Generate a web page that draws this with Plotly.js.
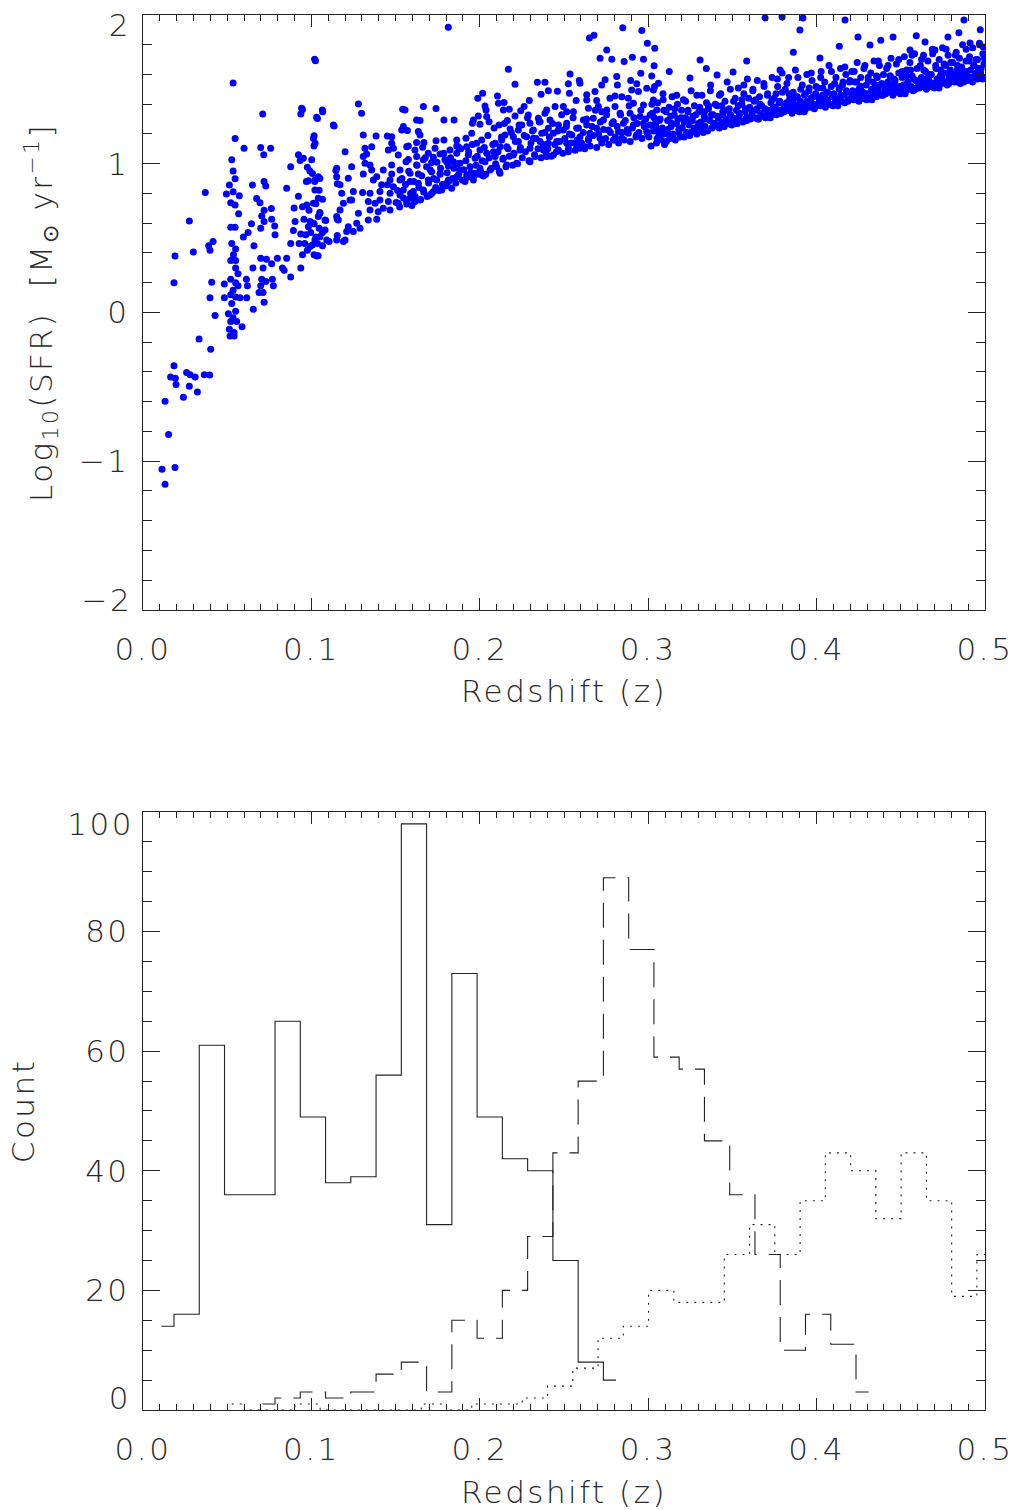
<!DOCTYPE html>
<html>
<head>
<meta charset="utf-8">
<script src="https://cdn.plot.ly/plotly-3.0.1.min.js"></script>
<style>
  html, body { margin: 0; padding: 0; background: #fff; }
  #chart { width: 1015px; height: 1510px; }
  #chart svg text { letter-spacing: 2.5px; }
</style>
</head>
<body>
<div id="chart"></div>
<script>
// Star-formation rate against redshift, [z, log10 SFR] pairs grouped by redshift range
const ptsLowZ = [
  [0.0113,-1.054],[0.0131,-1.155],[0.0190,-1.042],[0.0152,-0.821],[0.0131,-0.597],[0.0184,-0.358],
  [0.0164,-0.433],[0.0192,-0.442],[0.0196,-0.484],[0.0240,-0.570],[0.0259,-0.403],[0.0275,-0.496],
  [0.0280,-0.418],[0.0310,-0.433],[0.0323,-0.534],[0.0364,-0.418],[0.0396,-0.421],[0.0402,-0.248],
  [0.0333,-0.179],[0.0428,-0.021],[0.0398,0.099],[0.0408,0.203],[0.0184,0.200],[0.0190,0.379],
  [0.0299,0.406],[0.0275,0.615],[0.0370,0.806],[0.0390,0.448],[0.0416,0.478],[0.0398,0.418],
  [0.0483,0.191],[0.0483,0.099],
  [0.0535,1.543],[0.0547,1.170],[0.0527,1.027],[0.0535,0.952],[0.0547,0.899],[0.0513,0.857],
  [0.0495,0.797],[0.0535,0.812],[0.0572,0.785],[0.0521,0.737],[0.0547,0.722],[0.0568,0.663],
  [0.0521,0.573],[0.0547,0.573],[0.0527,0.463],[0.0550,0.427],[0.0521,0.349],[0.0550,0.349],
  [0.0564,0.260],[0.0521,0.224],[0.0550,0.200],[0.0535,0.149],[0.0564,0.179],[0.0521,0.119],
  [0.0550,0.104],[0.0576,0.099],[0.0527,0.060],[0.0550,0.009],[0.0507,-0.009],[0.0535,-0.036],
  [0.0521,-0.060],[0.0556,-0.060],[0.0513,-0.113],[0.0541,-0.134],[0.0588,-0.096],[0.0517,-0.158],
  [0.0541,-0.158],[0.0550,0.299],[0.0537,0.388],
  [0.0600,1.104],[0.0596,0.508],[0.0624,0.538],[0.0614,0.224],[0.0620,0.179],[0.0616,0.099],
  [0.0644,0.597],[0.0650,0.857],[0.0659,0.448],[0.0653,0.299],[0.0655,0.021],[0.0675,0.767],
  [0.0695,0.737],[0.0711,1.334],[0.0699,1.110],[0.0717,1.060],[0.0758,1.104],[0.0719,0.881],
  [0.0729,0.851],[0.0719,0.687],[0.0705,0.648],[0.0699,0.567],[0.0719,0.612],[0.0762,0.699],
  [0.0764,0.627],[0.0782,0.582],[0.0699,0.364],[0.0733,0.358],[0.0713,0.299],[0.0705,0.224],
  [0.0729,0.209],[0.0689,0.134],[0.0713,0.134],[0.0719,0.069],[0.0699,0.179],[0.0764,0.328],
  [0.0774,0.179],[0.0768,0.224],[0.0798,0.364],[0.0784,0.522],[0.0828,0.299],[0.0838,0.284],
  [0.0853,0.836],[0.0877,0.979],[0.0877,0.239],[0.0853,0.364],[0.0877,0.463],[0.0893,0.552],
  [0.0903,0.612],[0.0897,0.702],[0.0923,1.060],[0.0933,1.021],[0.0937,1.334],[0.0947,1.364],
  [0.1024,1.693],[0.1036,1.304],[0.1067,1.349],[0.1135,1.254],[0.1016,1.188],[0.1022,1.137],
  [0.0976,0.976],[0.1006,0.934],[0.0970,0.881],[0.1020,0.881],[0.1050,0.901],[0.1046,0.821],
  [0.0923,0.782],[0.0947,0.711],[0.0986,0.687],[0.1026,0.731],[0.1050,0.672],[0.1066,0.761],
  [0.0956,0.627],[0.0992,0.612],[0.1016,0.597],[0.1046,0.567],[0.1085,0.618],[0.0937,0.528],
  [0.0966,0.522],[0.0996,0.538],[0.1026,0.508],[0.1066,0.538],[0.0927,0.463],[0.0960,0.463],
  [0.1006,0.454],[0.1036,0.463],[0.1066,0.448],[0.1105,0.478],[0.0947,0.388],[0.0976,0.418],
  [0.1016,0.388],[0.1040,0.382],[0.0937,0.299],[0.1145,0.955],[0.1154,0.866],[0.1154,0.627],
  [0.1154,0.517]
];

const ptsMidZ = [
  [0.1813,1.917],[0.1019,1.702],[0.2849,1.915],[0.2962,1.895],[0.2651,1.846],[0.2678,1.864],
  [0.2754,1.765],[0.2714,1.709],[0.2784,1.702],[0.2857,1.687],[0.2906,1.716],[0.2972,1.702],
  [0.2995,1.810],[0.3039,1.776],[0.3035,1.658],[0.2956,1.608],[0.3021,1.590],[0.2170,1.635],
  [0.2209,1.534],[0.2342,1.548],[0.2387,1.548],[0.2364,1.467],[0.2407,1.490],[0.2461,1.487],
  [0.2536,1.604],[0.2526,1.537],[0.2591,1.559],[0.2532,1.474],[0.2595,1.541],[0.2744,1.564],
  [0.2813,1.586],[0.2817,1.530],[0.2724,1.530],[0.2896,1.559],[0.2932,1.537],[0.2017,1.474],
  [0.1988,1.440],[0.2105,1.456],[0.2144,1.411],[0.2111,1.407],[0.2031,1.389],[0.2037,1.361],
  [0.2140,1.361],[0.2175,1.366],[0.2263,1.384],[0.2294,1.425],[0.2243,1.357],[0.2209,1.321],
  [0.2288,1.328],[0.2164,1.290],[0.1991,1.321],[0.2041,1.317],[0.2055,1.283],[0.1962,1.294],
  [0.1956,1.272],[0.2001,1.265],[0.2114,1.261],[0.2180,1.234],[0.2249,1.261],[0.2298,1.272],
  [0.2348,1.306],[0.2397,1.361],[0.2447,1.384],[0.2496,1.384],[0.2516,1.350],[0.2556,1.350],
  [0.2572,1.425],[0.2635,1.429],[0.2684,1.485],[0.2635,1.463],[0.2694,1.425],[0.2645,1.373],
  [0.2704,1.384],[0.2724,1.350],[0.2773,1.440],[0.2803,1.456],[0.2843,1.451],[0.2882,1.440],
  [0.2902,1.496],[0.2942,1.485],[0.2991,1.507],[0.3031,1.496],[0.3061,1.541],[0.2912,1.407],
  [0.2972,1.395],[0.3031,1.429],[0.3051,1.361],[0.2803,1.384],[0.2754,1.361],[0.2833,1.339],
  [0.2892,1.339],[0.2952,1.317],[0.3011,1.328],[0.3061,1.294],[0.2674,1.306],[0.2734,1.294],
  [0.2793,1.283],[0.2853,1.272],[0.2912,1.261],[0.2972,1.272],[0.3031,1.250],[0.2615,1.294],
  [0.2635,1.261],[0.2694,1.239],[0.2764,1.227],[0.2823,1.216],[0.2882,1.205],[0.2932,1.194],
  [0.2991,1.216],[0.3051,1.227],[0.2655,1.205],[0.2714,1.171],[0.2793,1.160],[0.2843,1.171],
  [0.2575,1.239],[0.2516,1.272],[0.2467,1.261],[0.2417,1.294],[0.2387,1.339],[0.2358,1.283],
  [0.2318,1.227],[0.2229,1.227],[0.2199,1.182],[0.2150,1.194],[0.2130,1.160],[0.2120,1.115],
  [0.2160,1.115],[0.2229,1.149],[0.2278,1.182],[0.2318,1.171],[0.2368,1.205],[0.2407,1.239],
  [0.2437,1.205],[0.2496,1.227],[0.2546,1.194],[0.2595,1.182],[0.2645,1.160],[0.2358,1.149],
  [0.2407,1.137],[0.2457,1.149],[0.2516,1.137],[0.2575,1.126],[0.2625,1.115],[0.2467,1.093],
  [0.2526,1.081],[0.2595,1.104],[0.2378,1.093],[0.2298,1.104],[0.2239,1.093],[0.2199,1.059],
  [0.2328,1.048],[0.2397,1.048],[0.2437,1.059],[0.2298,1.014],[0.2219,1.003],[0.2160,0.992],
  [0.2140,1.037],[0.2091,1.048],[0.2041,1.070],[0.2091,1.137],[0.2081,1.081],[0.2001,1.093],
  [0.2011,1.160],[0.1952,1.205],[0.1918,1.171],[0.1981,1.137],[0.1922,1.115],[0.1863,1.160],
  [0.1863,1.120],[0.1932,1.059],[0.1972,1.037],[0.2031,1.014],[0.2100,0.980],[0.2120,0.936],
  [0.2061,0.958],[0.2001,0.969],[0.1942,0.980],[0.1882,1.003],[0.1843,1.014],[0.1803,1.014],
  [0.1882,0.958],[0.1922,0.924],[0.1972,0.936],[0.2021,0.918],[0.1863,0.913],[0.1813,0.891],
  [0.1912,0.880],[0.1962,0.891],[0.1813,0.985],[0.1767,0.969],[0.1793,1.026],[0.1784,1.066],
  [0.1823,1.093],[0.1863,1.070],[0.1872,1.115],[0.1787,1.294],[0.1847,1.294],[0.1740,1.372],
  [0.1665,1.384],[0.1556,1.361],[0.1542,1.366],[0.1625,1.294],[0.1645,1.290],[0.1546,1.250],
  [0.1570,1.223],[0.1536,1.227],[0.1635,1.216],[0.1645,1.194],[0.1740,1.155],[0.1787,1.160],
  [0.1734,1.104],[0.1764,1.066],[0.1694,1.070],[0.1625,1.142],[0.1668,1.142],[0.1661,1.111],
  [0.1615,1.093],[0.1576,1.120],[0.1477,1.182],[0.1451,1.187],[0.1384,1.187],[0.1308,1.194],
  [0.1477,1.137],[0.1457,1.093],[0.1487,1.104],[0.1566,1.115],[0.1516,1.059],[0.1576,1.028],
  [0.1625,1.048],[0.1665,1.026],[0.1714,1.008],[0.1724,1.044],[0.1684,0.980],[0.1625,0.992],
  [0.1562,1.014],[0.1477,0.992],[0.1526,0.958],[0.1477,0.931],[0.1427,0.958],[0.1586,0.936],
  [0.1635,0.931],[0.1714,0.947],[0.1764,0.936],[0.1744,0.891],[0.1694,0.891],[0.1635,0.869],
  [0.1586,0.880],[0.1526,0.891],[0.1467,0.891],[0.1417,0.858],[0.1487,0.846],[0.1546,0.824],
  [0.1605,0.813],[0.1665,0.824],[0.1724,0.813],[0.1774,0.824],[0.1833,0.835],[0.1803,0.869],
  [0.1467,0.801],[0.1526,0.790],[0.1586,0.768],[0.1645,0.757],[0.1704,0.790],[0.1407,0.813],
  [0.1407,0.757],[0.1457,0.746],[0.1516,0.734],[0.1566,0.746],[0.1615,0.746],[0.1427,0.701],
  [0.1467,0.689],[0.1348,0.689],[0.1378,0.734],[0.1338,0.746],[0.1304,0.807],[0.1348,0.801],
  [0.1397,0.678],[0.1388,0.627],[0.1338,0.622],[0.1279,0.667],[0.1269,0.600],[0.1289,0.566],
  [0.1249,0.544],[0.1219,0.577],[0.1209,0.544],[0.1200,0.488],[0.1160,0.622],[0.1150,0.645],
  [0.1170,0.689],[0.1190,0.734],[0.1229,0.757],[0.1249,0.813],[0.1239,0.757],[0.1180,0.801],
  [0.1170,0.858],[0.1150,0.913],[0.1150,0.969],[0.1219,0.902],[0.1239,0.980],[0.1200,1.081],
  [0.1130,1.261],[0.1279,1.402],[0.1298,1.339],[0.1065,1.361],[0.1031,1.312],[0.0942,1.373],
  [0.1308,1.048],[0.1318,1.104],[0.1358,1.115],[0.1328,1.066],[0.1348,0.992],[0.1318,1.003],
  [0.1358,0.958],[0.1308,0.931],[0.1388,0.913],[0.1368,0.891],[0.1451,0.858],[0.1081,0.622],
  [0.1051,0.667],[0.1012,1.172],[0.1015,1.120],[0.1002,1.026],[0.0991,0.951],[0.0982,0.886],
  [0.1021,0.891],[0.1041,0.913],[0.1021,0.824],[0.1041,0.768],[0.1012,0.734],[0.0972,0.723],
  [0.1041,0.645],[0.1012,0.600],[0.0982,0.577],[0.1051,0.510],[0.1021,0.488],[0.1091,0.488],
  [0.0992,0.443],[0.1031,0.380],[0.1081,0.555],[0.0952,1.037],[0.1150,0.488],[0.1190,0.477]
];

// Denser lower part of the sequence between z = 0.15 and 0.30
const ptsMidBand = [
  [0.1503,0.74],[0.1512,0.82],[0.1524,0.71],[0.1538,0.90],[0.1547,0.77],[0.1559,0.86],[0.1566,0.73],
  [0.1578,0.95],[0.1589,0.80],[0.1597,0.72],[0.1608,0.88],[0.1616,0.78],[0.1627,0.99],[0.1638,0.84],
  [0.1649,0.76],[0.1655,0.92],[0.1667,0.81],[0.1676,1.04],[0.1688,0.78],[0.1696,0.87],[0.1705,0.96],
  [0.1714,0.80],[0.1726,0.90],[0.1738,0.84],[0.1746,1.01],[0.1757,0.82],[0.1765,0.93],[0.1778,0.86],
  [0.1786,1.07],[0.1797,0.85],[0.1806,0.94],[0.1815,0.88],[0.1826,1.04],[0.1838,0.90],[0.1846,0.97],
  [0.1857,0.87],[0.1868,1.00],[0.1875,0.93],[0.1887,1.10],[0.1896,0.89],[0.1905,0.96],[0.1917,1.02],
  [0.1926,0.91],[0.1934,1.08],[0.1947,0.94],[0.1955,1.13],[0.1966,0.92],[0.1977,0.99],[0.1985,1.05],
  [0.1996,0.93],
  [0.2004,0.95],[0.2013,1.02],[0.2027,1.11],[0.2035,0.93],[0.2048,1.19],[0.2056,1.04],[0.2069,0.97],
  [0.2077,1.13],[0.2085,1.24],[0.2094,1.00],[0.2108,1.08],[0.2116,0.95],[0.2129,1.18],[0.2137,1.03],
  [0.2146,1.27],[0.2155,0.98],[0.2168,1.10],[0.2176,1.05],[0.2187,1.21],[0.2195,0.99],
  [0.2203,1.07],[0.2211,1.15],[0.2224,1.00],[0.2233,1.26],[0.2241,1.11],[0.2252,1.04],[0.2264,1.19],
  [0.2271,1.08],[0.2283,1.31],[0.2292,1.02],[0.2304,1.14],[0.2313,1.22],[0.2325,1.06],[0.2334,1.17],
  [0.2346,1.10],[0.2353,1.28],[0.2364,1.04],[0.2377,1.13],[0.2386,1.21],[0.2394,1.07],
  [0.2404,1.10],[0.2413,1.18],[0.2425,1.05],[0.2432,1.27],[0.2446,1.13],[0.2455,1.08],[0.2463,1.22],
  [0.2474,1.15],[0.2486,1.33],[0.2493,1.07],[0.2505,1.17],[0.2514,1.25],[0.2526,1.10],[0.2533,1.20],
  [0.2545,1.14],[0.2554,1.31],[0.2566,1.09],[0.2578,1.16],[0.2586,1.24],[0.2597,1.12],
  [0.2604,1.14],[0.2615,1.21],[0.2623,1.10],[0.2634,1.30],[0.2646,1.17],[0.2655,1.12],[0.2667,1.25],
  [0.2673,1.19],[0.2686,1.36],[0.2694,1.11],[0.2705,1.20],[0.2716,1.28],[0.2724,1.14],[0.2735,1.23],
  [0.2747,1.17],[0.2753,1.33],[0.2765,1.13],[0.2776,1.21],[0.2785,1.27],[0.2796,1.16],
  [0.2805,1.18],[0.2816,1.25],[0.2824,1.14],[0.2836,1.33],[0.2844,1.21],[0.2857,1.16],[0.2864,1.29],
  [0.2875,1.23],[0.2887,1.39],[0.2893,1.15],[0.2906,1.24],[0.2915,1.31],[0.2927,1.18],[0.2934,1.27],
  [0.2945,1.21],[0.2956,1.36],[0.2963,1.17],[0.2977,1.25],[0.2985,1.30],[0.2996,1.20]
];

// Sparse high points above the sequence beyond z = 0.3
const ptsHighOutliers = [
  [0.3694,1.980],[0.3795,1.987],[0.3919,1.980],[0.3901,1.899],[0.4169,1.966],[0.4875,1.966],
  [0.3409,1.597],[0.3504,1.617],[0.3783,1.630],[0.4020,1.711],[0.4246,1.852],[0.4454,1.852],
  [0.4555,1.765],[0.4644,1.818],[0.4780,1.852],[0.4911,1.812],[0.4990,1.785],[0.4703,1.765],
  [0.4317,1.798],[0.3308,1.697],[0.3248,1.576],
  [0.3125,1.62],[0.3345,1.64],[0.3585,1.69],[0.3862,1.75],[0.4135,1.79],[0.4381,1.83],
  [0.4592,1.86],[0.4845,1.88],[0.4972,1.90]
];

// Main sequence beyond z = 0.3
const ptsHighZ = [
  [0.3004,1.18],[0.3017,1.12],[0.3025,1.34],[0.3031,1.22],[0.3042,1.27],[0.3049,1.14],[0.3056,1.41],
  [0.3063,1.19],[0.3071,1.30],[0.3077,1.16],[0.3084,1.24],[0.3088,1.47],[0.3093,1.36],[0.3097,1.13],
  [0.3038,1.52],
  [0.3103,1.21],[0.3108,1.15],[0.3115,1.29],[0.3124,1.38],[0.3129,1.17],[0.3136,1.25],[0.3142,1.45],
  [0.3147,1.20],[0.3155,1.33],[0.3161,1.16],[0.3168,1.27],[0.3174,1.40],[0.3182,1.23],[0.3188,1.18],
  [0.3195,1.31],
  [0.3202,1.24],[0.3209,1.43],[0.3214,1.18],[0.3221,1.31],[0.3228,1.21],[0.3236,1.36],[0.3243,1.26],
  [0.3247,1.19],[0.3255,1.49],[0.3262,1.29],[0.3269,1.22],[0.3274,1.39],[0.3283,1.33],[0.3289,1.20],
  [0.3297,1.27],
  [0.3301,1.35],[0.3306,1.23],[0.3313,1.28],[0.3319,1.46],[0.3327,1.21],[0.3333,1.32],[0.3338,1.25],
  [0.3346,1.41],[0.3352,1.22],[0.3358,1.37],[0.3366,1.29],[0.3371,1.53],[0.3379,1.24],[0.3386,1.33],
  [0.3393,1.27],
  [0.3404,1.26],[0.3409,1.39],[0.3416,1.31],[0.3422,1.24],[0.3431,1.47],[0.3437,1.28],[0.3443,1.35],
  [0.3448,1.25],[0.3456,1.42],[0.3462,1.30],[0.3469,1.55],[0.3475,1.27],[0.3482,1.37],[0.3489,1.33],
  [0.3496,1.26],
  [0.3503,1.31],[0.3511,1.28],[0.3517,1.44],[0.3524,1.36],[0.3529,1.27],[0.3535,1.51],[0.3542,1.33],
  [0.3549,1.29],[0.3556,1.40],[0.3563,1.28],[0.3568,1.47],[0.3575,1.35],[0.3583,1.31],[0.3589,1.57],
  [0.3596,1.30],
  [0.3602,1.38],[0.3608,1.30],[0.3615,1.33],[0.3621,1.49],[0.3629,1.42],[0.3634,1.31],[0.3641,1.36],
  [0.3648,1.56],[0.3655,1.30],[0.3661,1.45],[0.3667,1.34],[0.3674,1.39],[0.3682,1.32],[0.3688,1.52],
  [0.3694,1.37],
  [0.3704,1.33],[0.3709,1.47],[0.3716,1.36],[0.3723,1.32],[0.3729,1.41],[0.3736,1.58],[0.3742,1.34],
  [0.3748,1.44],[0.3755,1.38],[0.3761,1.33],[0.3769,1.52],[0.3774,1.36],[0.3781,1.42],[0.3788,1.34],
  [0.3795,1.61],
  [0.3802,1.37],[0.3807,1.35],[0.3814,1.50],[0.3821,1.41],[0.3828,1.36],[0.3834,1.58],[0.3841,1.44],
  [0.3847,1.38],[0.3853,1.35],[0.3861,1.48],[0.3867,1.40],[0.3874,1.63],[0.3879,1.37],[0.3886,1.45],
  [0.3893,1.39],
  [0.3903,1.42],[0.3909,1.37],[0.3915,1.53],[0.3922,1.39],[0.3928,1.46],[0.3935,1.37],[0.3942,1.60],
  [0.3947,1.41],[0.3954,1.49],[0.3961,1.38],[0.3968,1.44],[0.3973,1.56],[0.3981,1.40],[0.3987,1.37],
  [0.3994,1.47],
  [0.4003,1.40],[0.4008,1.51],[0.4016,1.43],[0.4022,1.39],[0.4027,1.62],[0.4035,1.46],[0.4041,1.41],
  [0.4048,1.55],[0.4053,1.39],[0.4061,1.48],[0.4066,1.43],[0.4074,1.66],[0.4081,1.40],[0.4087,1.52],
  [0.4094,1.45],
  [0.4102,1.47],[0.4109,1.41],[0.4115,1.58],[0.4121,1.44],[0.4128,1.41],[0.4134,1.50],[0.4142,1.64],
  [0.4148,1.42],[0.4154,1.53],[0.4161,1.46],[0.4167,1.41],[0.4174,1.60],[0.4181,1.48],[0.4188,1.43],
  [0.4195,1.55],
  [0.4203,1.44],[0.4209,1.62],[0.4214,1.49],[0.4222,1.43],[0.4228,1.55],[0.4236,1.46],[0.4241,1.68],
  [0.4248,1.43],[0.4255,1.51],[0.4262,1.58],[0.4268,1.45],[0.4275,1.48],[0.4281,1.64],[0.4288,1.44],
  [0.4295,1.53],
  [0.4302,1.47],[0.4307,1.56],[0.4315,1.45],[0.4322,1.61],[0.4327,1.50],[0.4334,1.46],[0.4341,1.69],
  [0.4348,1.53],[0.4354,1.45],[0.4361,1.58],[0.4366,1.49],[0.4373,1.66],[0.4381,1.47],[0.4387,1.54],
  [0.4394,1.46],
  [0.4404,1.51],[0.4409,1.47],[0.4416,1.64],[0.4423,1.55],[0.4428,1.48],[0.4436,1.59],[0.4442,1.71],
  [0.4447,1.50],[0.4455,1.47],[0.4461,1.57],[0.4468,1.53],[0.4474,1.67],[0.4481,1.49],[0.4488,1.61],
  [0.4495,1.52],
  [0.4502,1.49],[0.4508,1.58],[0.4515,1.53],[0.4521,1.72],[0.4527,1.49],[0.4535,1.63],[0.4541,1.55],
  [0.4548,1.50],[0.4554,1.68],[0.4561,1.52],[0.4567,1.59],[0.4574,1.49],[0.4582,1.74],[0.4588,1.56],
  [0.4594,1.51],
  [0.4603,1.55],[0.4609,1.51],[0.4616,1.66],[0.4622,1.58],[0.4629,1.52],[0.4635,1.73],[0.4641,1.54],
  [0.4647,1.62],[0.4655,1.51],[0.4661,1.69],[0.4668,1.56],[0.4674,1.52],[0.4681,1.60],[0.4687,1.77],
  [0.4694,1.54],
  [0.4702,1.53],[0.4709,1.64],[0.4715,1.57],[0.4722,1.53],[0.4728,1.70],[0.4734,1.59],[0.4741,1.54],
  [0.4748,1.78],[0.4754,1.61],[0.4761,1.55],[0.4767,1.66],[0.4775,1.53],[0.4781,1.73],[0.4787,1.58],
  [0.4794,1.63],
  [0.4803,1.56],[0.4808,1.68],[0.4815,1.60],[0.4822,1.55],[0.4829,1.75],[0.4835,1.63],[0.4841,1.57],
  [0.4848,1.71],[0.4854,1.55],[0.4861,1.65],[0.4867,1.80],[0.4874,1.59],[0.4881,1.56],[0.4887,1.69],
  [0.4894,1.62],
  [0.4902,1.58],[0.4908,1.72],[0.4914,1.63],[0.4921,1.57],[0.4927,1.78],[0.4934,1.66],[0.4941,1.59],
  [0.4947,1.70],[0.4954,1.57],[0.4961,1.64],[0.4967,1.81],[0.4974,1.61],[0.4981,1.58],[0.4987,1.74],
  [0.4994,1.67]
];

// Further galaxies filling the thick part of the sequence beyond z = 0.3
const ptsHighZFill = [
  [0.3011,1.26],[0.3158,1.37],[0.3072,1.21],[0.3194,1.24],[0.3035,1.31],[0.3127,1.19],[0.3089,1.43],
  [0.3176,1.30],[0.3053,1.17],[0.3141,1.27],[0.3106,1.35],[0.3183,1.21],[0.3022,1.40],[0.3169,1.46],
  [0.3117,1.23],[0.3066,1.29],[0.3198,1.36],[0.3046,1.25],[0.3134,1.32],[0.3095,1.20],
  [0.3213,1.28],[0.3358,1.39],[0.3272,1.24],[0.3394,1.27],[0.3236,1.35],[0.3327,1.23],[0.3289,1.46],
  [0.3376,1.33],[0.3253,1.21],[0.3341,1.30],[0.3306,1.38],[0.3384,1.25],[0.3222,1.42],[0.3369,1.49],
  [0.3317,1.26],[0.3266,1.32],[0.3398,1.40],[0.3246,1.29],[0.3334,1.35],[0.3295,1.23],
  [0.3412,1.32],[0.3557,1.43],[0.3473,1.28],[0.3593,1.31],[0.3437,1.39],[0.3526,1.27],[0.3488,1.50],
  [0.3577,1.37],[0.3452,1.25],[0.3542,1.34],[0.3507,1.42],[0.3585,1.29],[0.3423,1.46],[0.3568,1.53],
  [0.3516,1.30],[0.3467,1.36],[0.3597,1.44],[0.3445,1.33],[0.3535,1.39],[0.3496,1.27],
  [0.3614,1.36],[0.3759,1.47],[0.3671,1.32],[0.3792,1.35],[0.3638,1.43],[0.3725,1.31],[0.3687,1.54],
  [0.3778,1.41],[0.3651,1.30],[0.3743,1.38],[0.3708,1.46],[0.3786,1.34],[0.3622,1.50],[0.3767,1.57],
  [0.3716,1.34],[0.3664,1.40],[0.3797,1.48],[0.3646,1.37],[0.3735,1.43],[0.3697,1.31],
  [0.3813,1.40],[0.3956,1.51],[0.3872,1.36],[0.3994,1.39],[0.3836,1.47],[0.3927,1.35],[0.3889,1.58],
  [0.3978,1.45],[0.3854,1.34],[0.3941,1.42],[0.3906,1.50],[0.3985,1.38],[0.3824,1.54],[0.3968,1.61],
  [0.3918,1.38],[0.3866,1.44],[0.3997,1.52],[0.3845,1.41],[0.3934,1.47],[0.3897,1.35],
  [0.4014,1.44],[0.4157,1.55],[0.4073,1.40],[0.4193,1.43],[0.4037,1.51],[0.4126,1.39],[0.4088,1.62],
  [0.4177,1.49],[0.4052,1.38],[0.4143,1.46],[0.4107,1.54],[0.4186,1.42],[0.4024,1.58],[0.4168,1.65],
  [0.4116,1.42],[0.4065,1.48],[0.4198,1.56],[0.4046,1.45],[0.4135,1.51],[0.4096,1.39],
  [0.4212,1.48],[0.4356,1.59],[0.4274,1.44],[0.4392,1.47],[0.4238,1.55],[0.4328,1.43],[0.4287,1.66],
  [0.4377,1.53],[0.4251,1.42],[0.4342,1.50],[0.4306,1.58],[0.4384,1.46],[0.4223,1.62],[0.4367,1.69],
  [0.4318,1.46],[0.4264,1.52],[0.4397,1.60],[0.4245,1.49],[0.4336,1.55],[0.4296,1.43],
  [0.4413,1.52],[0.4558,1.63],[0.4472,1.48],[0.4594,1.51],[0.4437,1.59],[0.4526,1.47],[0.4488,1.70],
  [0.4576,1.57],[0.4453,1.46],[0.4543,1.54],[0.4508,1.62],[0.4586,1.50],[0.4424,1.66],[0.4567,1.73],
  [0.4517,1.50],[0.4466,1.56],[0.4596,1.64],[0.4446,1.53],[0.4534,1.59],[0.4497,1.47],
  [0.4612,1.56],[0.4757,1.67],[0.4673,1.52],[0.4793,1.55],[0.4636,1.63],[0.4727,1.51],[0.4689,1.74],
  [0.4778,1.61],[0.4652,1.50],[0.4744,1.58],[0.4707,1.66],[0.4785,1.54],[0.4623,1.70],[0.4769,1.77],
  [0.4716,1.54],[0.4665,1.60],[0.4797,1.68],[0.4645,1.57],[0.4736,1.63],[0.4698,1.51],
  [0.4813,1.59],[0.4956,1.70],[0.4874,1.55],[0.4993,1.58],[0.4837,1.66],[0.4926,1.55],[0.4888,1.77],
  [0.4977,1.64],[0.4853,1.54],[0.4942,1.61],[0.4906,1.69],[0.4985,1.57],[0.4824,1.73],[0.4968,1.80],
  [0.4917,1.58],[0.4866,1.63],[0.4997,1.71],[0.4845,1.60],[0.4934,1.66],[0.4896,1.56]
];

// Redshift histograms: bin centres (bin width 0.015) and counts
const solidCenters = [0.0109,0.0259,0.0409,0.0559,0.0709,0.0859,0.1009,0.1159,0.1309,0.1459,
  0.1609,0.1759,0.1909,0.2059,0.2209,0.2359,0.2509,0.2659,0.2809];
const solidCounts = [14,16,61,36,36,65,49,38,39,56,98,31,73,49,42,40,25,8,5];

const dashedCenters = [0.0709,0.0859,0.1009,0.1159,0.1309,0.1459,0.1609,0.1759,0.1909,0.2059,
  0.2209,0.2359,0.2509,0.2659,0.2809,0.2959,0.3109,0.3259,0.3409,0.3559,0.3709,0.3859,0.4009,
  0.4159,0.4309];
const dashedCounts = [1,2,3,2,3,6,8,3,15,12,20,29,43,55,89,77,59,57,45,36,26,10,16,11,3];

const dottedCenters = [0.0527,0.0677,0.0827,0.0977,0.1127,0.1277,0.1427,0.1577,0.1727,0.1877,
  0.2027,0.2177,0.2327,0.2477,0.2627,0.2777,0.2927,0.3077,0.3227,0.3377,0.3527,0.3677,0.3827,
  0.3977,0.4127,0.4277,0.4427,0.4577,0.4727,0.4877,0.5027];
const dottedCounts = [1,0,0,1,0,0,0,0,1,0,1,1,2,4,7,12,14,20,18,18,26,31,26,35,43,40,32,43,35,19,26];

const xTickVals = [0, 0.1, 0.2, 0.3, 0.4, 0.5];
const xTickText = ['0.0', '0.1', '0.2', '0.3', '0.4', '0.5'];
const sfrTickVals = [-2, -1, 0, 1, 2];
const sfrTickText = ['\u22122', '\u22121', '0', '1', '2'];
const countTickVals = [0, 20, 40, 60, 80, 100];
const countTickText = ['0', '20', '40', '60', '80', '100'];

const allPts = ptsLowZ.concat(ptsMidZ, ptsMidBand, ptsHighOutliers, ptsHighZ, ptsHighZFill);

const FONT = "'DejaVu Sans ExtraLight', 'DejaVu Sans', 'Liberation Sans', sans-serif";
const INK = '#222';
const TXT = { family: FONT, size: 31, color: '#2a2a2a', weight: 200 };

const traces = [
  {
    type: 'scatter', mode: 'markers',
    x: allPts.map(p => p[0]), y: allPts.map(p => p[1]),
    xaxis: 'x', yaxis: 'y',
    marker: { color: '#0000ff', size: 7, line: { width: 0 } },
    hoverinfo: 'skip'
  },
  {
    type: 'scatter', mode: 'lines', x: solidCenters, y: solidCounts,
    xaxis: 'x2', yaxis: 'y2',
    line: { shape: 'hvh', color: INK, width: 1.1 }
  },
  {
    type: 'scatter', mode: 'lines', x: dashedCenters, y: dashedCounts,
    xaxis: 'x2', yaxis: 'y2',
    line: { shape: 'hvh', color: INK, width: 1.1, dash: '25px,12px' }
  },
  {
    type: 'scatter', mode: 'lines', x: dottedCenters, y: dottedCounts,
    xaxis: 'x2', yaxis: 'y2',
    line: { shape: 'hvh', color: INK, width: 1.1, dash: '2px,6px' }
  }
];

// The end labels of each vertical axis sit just inside the frame, so they are
// drawn as annotations nudged inward; the inner labels come from the axis.
const innerText = (vals, texts) => vals.map((v, i) => (i === 0 || i === vals.length - 1) ? '' : texts[i]);
function endLabel(yref, value, text, shift) {
  return {
    xref: 'paper', x: 0, xanchor: 'right', xshift: -11,
    yref: yref, y: value, yanchor: 'middle', yshift: shift,
    text: text, showarrow: false, font: TXT
  };
}

function xAxis(anchor) {
  return {
    anchor: anchor, range: [0, 0.5], domain: [0, 1],
    showgrid: false, zeroline: false,
    showline: true, linecolor: INK, linewidth: 1.2, mirror: 'ticks',
    ticks: 'inside', ticklen: 12, tickwidth: 1, tickcolor: INK,
    tickvals: xTickVals, ticktext: xTickText,
    minor: { ticks: 'inside', dtick: 0.01, ticklen: 6, tickwidth: 1, tickcolor: INK },
    tickfont: TXT, ticklabeloverflow: 'allow',
    ticklabelstandoff: 12,
    title: { text: 'Redshift (z)', font: TXT, standoff: 14 }
  };
}

const layout = {
  width: 1015, height: 1510,
  margin: { l: 143, r: 30, t: 15, b: 100 },
  paper_bgcolor: '#fff', plot_bgcolor: '#fff',
  showlegend: false,
  xaxis: xAxis('y'),
  xaxis2: xAxis('y2'),
  yaxis: {
    anchor: 'x', domain: [0.5735, 1], range: [-2, 2],
    showgrid: false, zeroline: false,
    showline: true, linecolor: INK, linewidth: 1.2, mirror: 'ticks',
    ticks: 'inside', ticklen: 17, tickwidth: 1, tickcolor: INK,
    tickvals: sfrTickVals, ticktext: innerText(sfrTickVals, sfrTickText),
    minor: { ticks: 'inside', dtick: 0.2, ticklen: 9, tickwidth: 1, tickcolor: INK },
    tickfont: TXT, ticklabeloverflow: 'allow',
    ticklabelstandoff: 6,
    title: { text: 'Log<sub>10</sub>(SFR)  [M<sub>\u2299</sub> yr<sup>\u22121</sup>]',
             font: TXT, standoff: 22 }
  },
  yaxis2: {
    anchor: 'x2', domain: [0, 0.4287], range: [0, 100],
    showgrid: false, zeroline: false,
    showline: true, linecolor: INK, linewidth: 1.2, mirror: 'ticks',
    ticks: 'inside', ticklen: 17, tickwidth: 1, tickcolor: INK,
    tickvals: countTickVals, ticktext: innerText(countTickVals, countTickText),
    minor: { ticks: 'inside', dtick: 5, ticklen: 9, tickwidth: 1, tickcolor: INK },
    tickfont: TXT, ticklabeloverflow: 'allow',
    ticklabelstandoff: 6,
    title: { text: 'Count', font: TXT, standoff: 46 }
  },
  annotations: [
    endLabel('y', sfrTickVals[0], sfrTickText[0], 10),
    endLabel('y', sfrTickVals[sfrTickVals.length - 1], sfrTickText[sfrTickText.length - 1], -10),
    endLabel('y2', countTickVals[0], countTickText[0], 12),
    endLabel('y2', countTickVals[countTickVals.length - 1], countTickText[countTickText.length - 1], -12)
  ]
};

Plotly.newPlot('chart', traces, layout, { displayModeBar: false, staticPlot: true });
</script>
</body>
</html>
